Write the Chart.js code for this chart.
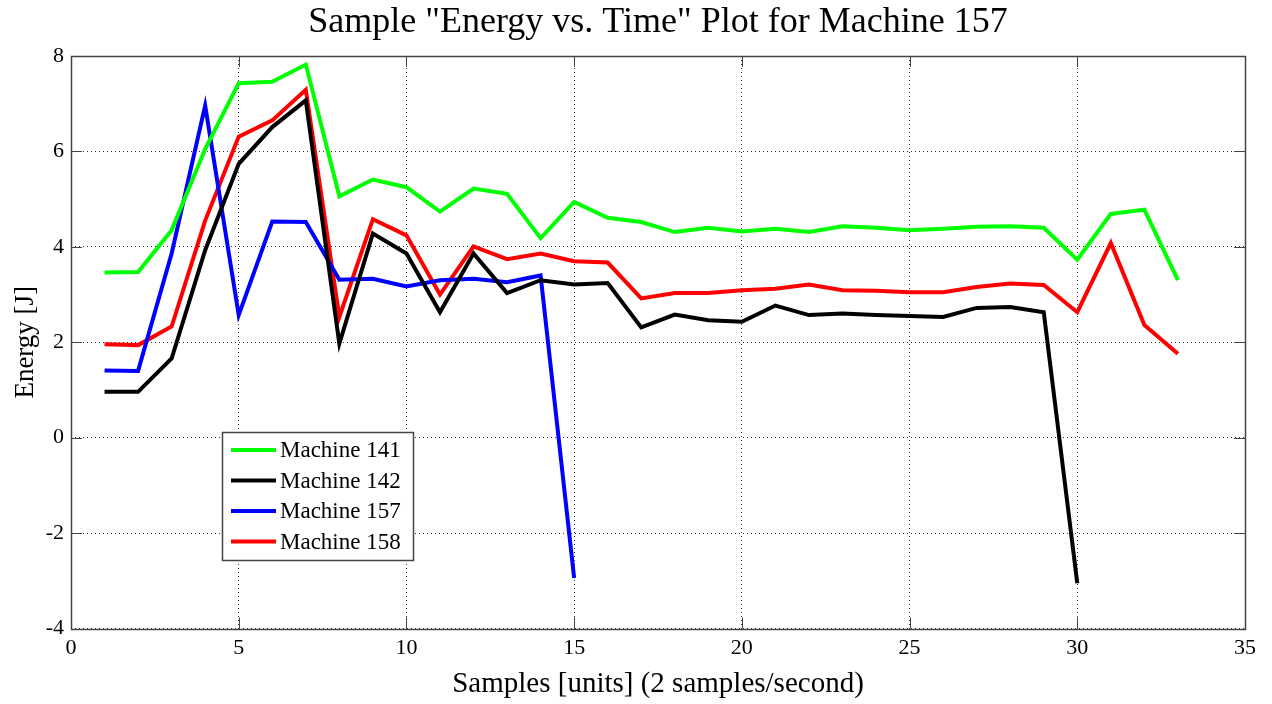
<!DOCTYPE html>
<html>
<head>
<meta charset="utf-8">
<script src="https://cdn.jsdelivr.net/npm/chart.js@4/dist/chart.umd.min.js"></script>
<style>
  html, body { margin: 0; padding: 0; background: #fff; }
  #wrap { width: 1272px; height: 704px; }
</style>
</head>
<body>
<div id="wrap"><canvas id="c" width="1272" height="704"></canvas></div>
<script>
const FONT = "'Liberation Serif', 'Times New Roman', serif";

// valores (muestra 1..n)
const titulo = 'Sample "Energy vs. Time" Plot for Machine 157';
const maquinas = ['Machine 141', 'Machine 142', 'Machine 157', 'Machine 158'];
const colores = ['#00ff00', '#000000', '#0000ff', '#ff0000'];
const m141 = [3.46, 3.47, 4.35, 6.05, 7.43, 7.46, 7.82, 5.06, 5.41, 5.25, 4.74, 5.22, 5.11, 4.18, 4.94, 4.61, 4.52, 4.31, 4.40, 4.32, 4.38, 4.31, 4.43, 4.40, 4.35, 4.38, 4.42, 4.43, 4.40, 3.73, 4.69, 4.78, 3.30];
const m142 = [0.96, 0.96, 1.66, 3.93, 5.74, 6.51, 7.07, 1.97, 4.28, 3.86, 2.63, 3.86, 3.03, 3.30, 3.21, 3.24, 2.31, 2.58, 2.46, 2.43, 2.77, 2.57, 2.60, 2.57, 2.55, 2.53, 2.72, 2.74, 2.63, -3.05];
const m157 = [1.41, 1.40, 3.86, 6.96, 2.57, 4.53, 4.52, 3.31, 3.33, 3.17, 3.30, 3.33, 3.26, 3.40, -2.94];
const m158 = [1.96, 1.94, 2.33, 4.55, 6.31, 6.65, 7.29, 2.53, 4.58, 4.24, 3.00, 4.01, 3.74, 3.86, 3.70, 3.67, 2.92, 3.03, 3.03, 3.09, 3.12, 3.21, 3.09, 3.08, 3.05, 3.05, 3.16, 3.23, 3.20, 2.63, 4.08, 2.36, 1.76];
const series = [m141, m142, m157, m158];

const xTicks = [0, 5, 10, 15, 20, 25, 30, 35];
const yTicks = [-4, -2, 0, 2, 4, 6, 8];

const aPuntos = arr => arr.map((v, i) => ({ x: i + 1, y: v }));

// caja de ejes estilo MATLAB + marcas hacia dentro + título + leyenda
const cajaEjes = {
  id: 'cajaEjes',
  afterDatasetsDraw(chart) {
    const { ctx, chartArea: a, scales } = chart;
    ctx.save();
    ctx.strokeStyle = '#444';
    ctx.lineWidth = 1;
    ctx.setLineDash([]);
    const L = 11;
    ctx.beginPath();
    xTicks.forEach(t => {
      const x = Math.round(scales.x.getPixelForValue(t)) + 0.5;
      ctx.moveTo(x, a.bottom); ctx.lineTo(x, a.bottom - L);
      ctx.moveTo(x, a.top); ctx.lineTo(x, a.top + L);
    });
    yTicks.forEach(t => {
      const y = Math.round(scales.y.getPixelForValue(t)) + 0.5;
      ctx.moveTo(a.left, y); ctx.lineTo(a.left + L, y);
      ctx.moveTo(a.right, y); ctx.lineTo(a.right - L, y);
    });
    ctx.stroke();
    ctx.lineWidth = 1.5;
    ctx.strokeRect(Math.round(a.left) + 0.5, Math.round(a.top) + 0.5, Math.round(a.right - a.left), Math.round(a.bottom - a.top));

    // título centrado sobre los ejes
    ctx.fillStyle = '#000';
    ctx.font = `36px ${FONT}`;
    ctx.textAlign = 'center';
    ctx.textBaseline = 'middle';
    ctx.fillText(titulo, (a.left + a.right) / 2, 23);

    // leyenda
    const bx = 222.5, by = 432.5, bw = 191, bh = 128;
    ctx.fillStyle = '#fff';
    ctx.fillRect(bx, by, bw, bh);
    ctx.lineWidth = 1.5;
    ctx.strokeStyle = '#444';
    ctx.strokeRect(bx, by, bw, bh);
    ctx.font = `23px ${FONT}`;
    ctx.textBaseline = 'middle';
    ctx.textAlign = 'left';
    chart.data.datasets.forEach((ds, i) => {
      const y = 450 + i * 30.5;
      ctx.strokeStyle = ds.borderColor;
      ctx.lineWidth = 4;
      ctx.beginPath();
      ctx.moveTo(231, y); ctx.lineTo(276, y);
      ctx.stroke();
      ctx.fillStyle = '#000';
      ctx.fillText(ds.label, 280, y + 1);
    });
    ctx.restore();
  }
};

new Chart(document.getElementById('c'), {
  type: 'line',
  data: {
    datasets: series.map((s, i) => ({
      label: maquinas[i],
      data: aPuntos(s),
      borderColor: colores[i],
      backgroundColor: colores[i],
      borderWidth: 4,
      pointRadius: 0,
      tension: 0,
      fill: false
    }))
  },
  options: {
    responsive: false,
    animation: false,
    layout: { padding: { top: 56, right: 27, left: 0, bottom: 0 } },
    plugins: {
      legend: { display: false },
      tooltip: { enabled: false },
      title: { display: false }
    },
    scales: {
      x: {
        type: 'linear',
        min: 0, max: 35,
        afterBuildTicks: s => { s.ticks = xTicks.map(v => ({ value: v })); },
        afterFit: s => { s.height = 75.5; },
        grid: { color: '#333', lineWidth: 1, drawTicks: false },
        border: { display: false, dash: [1, 3] },
        ticks: { color: '#000', padding: 7, font: { family: FONT, size: 22 }, maxRotation: 0 },
        title: { display: true, text: 'Samples [units] (2 samples/second)', color: '#000', font: { family: FONT, size: 29 }, padding: { top: 0, bottom: 2 } }
      },
      y: {
        min: -4, max: 8,
        afterBuildTicks: s => { s.ticks = yTicks.map(v => ({ value: v })); },
        afterFit: s => { s.width = 71; },
        grid: { color: '#333', lineWidth: 1, drawTicks: false },
        border: { display: false, dash: [1, 3] },
        ticks: { color: '#000', padding: 7, font: { family: FONT, size: 22 } },
        title: { display: true, text: 'Energy [J]', color: '#000', font: { family: FONT, size: 27 }, padding: { top: 10, bottom: 0 } }
      }
    }
  },
  plugins: [cajaEjes]
});
</script>
</body>
</html>
